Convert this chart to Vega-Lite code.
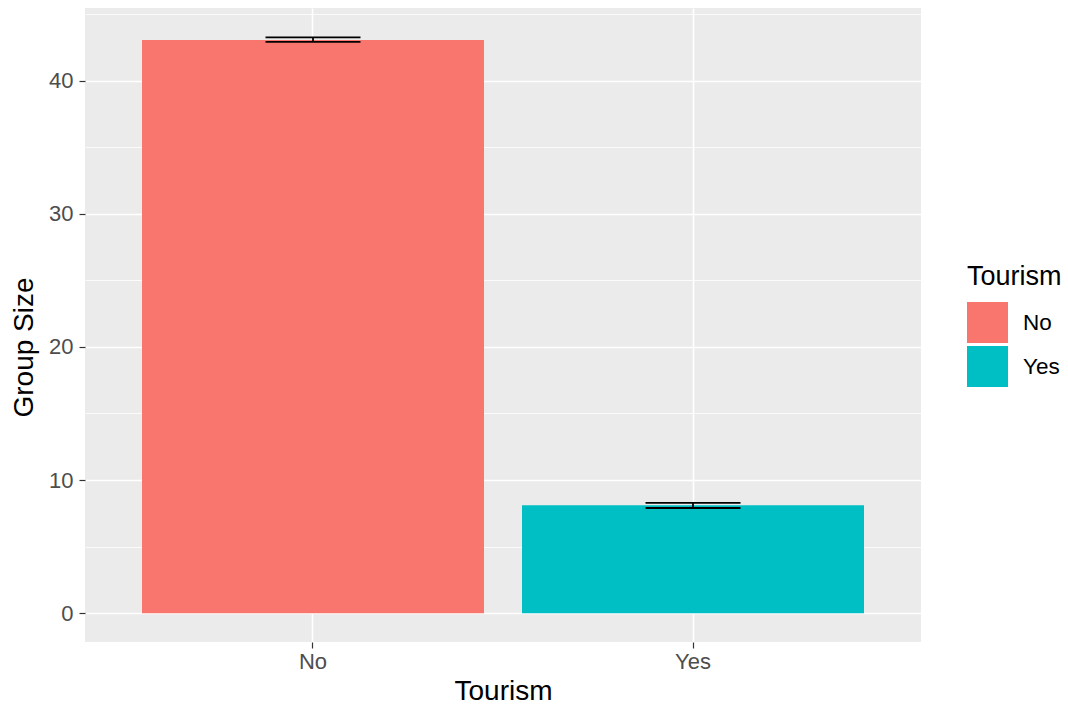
{
  "$schema": "https://vega.github.io/schema/vega-lite/v6.json",
  "width": 836,
  "height": 634,
  "autosize": {"type": "none"},
  "padding": {"left": 85, "top": 8, "right": 147, "bottom": 63},
  "background": "white",
  "config": {
    "font": "Liberation Sans",
    "view": {"fill": "#EBEBEB", "stroke": null}
  },
  "data": {
    "values": [
      {"Tourism": "No", "mean": 43.05, "lo": 42.9, "hi": 43.25},
      {"Tourism": "Yes", "mean": 8.1, "lo": 7.9, "hi": 8.28}
    ]
  },
  "resolve": {"axis": {"y": "independent"}},
  "layer": [
    {
      "mark": {"type": "rule", "opacity": 0},
      "encoding": {
        "y": {
          "field": "mean", "type": "quantitative",
          "scale": {"domain": [-2.165, 45.45], "nice": false, "zero": false},
          "axis": {"orient": "right", "values": [5, 15, 25, 35, 45], "grid": true, "gridColor": "white", "gridWidth": 0.8, "labels": false, "ticks": false, "domain": false, "title": null}
        }
      }
    },
    {
      "mark": {"type": "bar"},
      "encoding": {
        "x": {
          "field": "Tourism", "type": "nominal",
          "scale": {"paddingInner": 0.1, "paddingOuter": 0.15},
          "axis": {"title": "Tourism", "labelAngle": 0, "grid": true, "gridColor": "white", "gridWidth": 1.6, "domain": false, "tickColor": "#333333", "tickSize": 6, "tickWidth": 1.2, "labelFontSize": 22, "labelColor": "#4D4D4D", "labelPadding": 3, "titleFontSize": 28, "titleFontWeight": "normal", "titleColor": "black", "titlePadding": 5}
        },
        "y": {
          "field": "mean", "type": "quantitative",
          "scale": {"domain": [-2.165, 45.45], "nice": false, "zero": false},
          "axis": {"title": "Group Size", "values": [0, 10, 20, 30, 40], "grid": true, "gridColor": "white", "gridWidth": 1.6, "domain": false, "tickColor": "#333333", "tickSize": 6, "tickWidth": 1.2, "labelFontSize": 22, "labelColor": "#4D4D4D", "labelPadding": 6, "titleFontSize": 28, "titleFontWeight": "normal", "titleColor": "black", "titlePadding": 10, "titleY": 339}
        },
        "color": {
          "field": "Tourism", "type": "nominal",
          "scale": {"domain": ["No", "Yes"], "range": ["#F8766D", "#00BFC4"]},
          "legend": {"orient": "none", "legendX": 882, "legendY": 256, "title": "Tourism", "titleFontSize": 27, "titleFontWeight": "normal", "titleColor": "black", "titlePadding": 11, "labelFontSize": 22.5, "labelColor": "black", "symbolType": "square", "symbolSize": 1681, "symbolStrokeWidth": 0, "symbolOpacity": 1, "labelOffset": 15, "rowPadding": 3}
        }
      }
    },
    {
      "mark": {"type": "rule", "color": "black", "strokeWidth": 1.8},
      "encoding": {
        "x": {"field": "Tourism", "type": "nominal"},
        "y": {"field": "lo", "type": "quantitative", "axis": null},
        "y2": {"field": "hi"}
      }
    },
    {
      "mark": {"type": "tick", "color": "black", "size": 95, "thickness": 1.8, "opacity": 1},
      "encoding": {
        "x": {"field": "Tourism", "type": "nominal"},
        "y": {"field": "lo", "type": "quantitative", "axis": null}
      }
    },
    {
      "mark": {"type": "tick", "color": "black", "size": 95, "thickness": 1.8, "opacity": 1},
      "encoding": {
        "x": {"field": "Tourism", "type": "nominal"},
        "y": {"field": "hi", "type": "quantitative", "axis": null}
      }
    }
  ]
}
